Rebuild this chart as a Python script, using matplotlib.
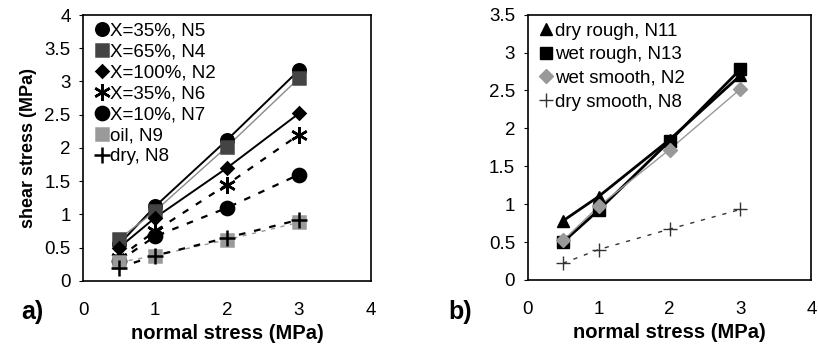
import matplotlib.pyplot as plt
from matplotlib.lines import Line2D

plt.rcParams['font.family'] = ['Liberation Sans', 'DejaVu Sans']

normal = [0.5, 1, 2, 3]

# panel a
a_labels = ['X=35%, N5', 'X=65%, N4', 'X=100%, N2', 'X=35%, N6', 'X=10%, N7', 'oil, N9', 'dry, N8']
a_n5 = [0.55, 1.12, 2.12, 3.17]
a_n4 = [0.63, 1.05, 2.02, 3.05]
a_n2 = [0.50, 0.95, 1.70, 2.52]
a_n6 = [0.35, 0.75, 1.45, 2.20]
a_n7 = [0.30, 0.67, 1.10, 1.60]
a_n9 = [0.28, 0.38, 0.62, 0.88]
a_n8 = [0.20, 0.38, 0.65, 0.92]

# panel b
b_labels = ['dry rough, N11', 'wet rough, N13', 'wet smooth, N2', 'dry smooth, N8']
b_n11 = [0.78, 1.10, 1.85, 2.70]
b_n13 = [0.50, 0.92, 1.83, 2.78]
b_n2 = [0.52, 0.97, 1.72, 2.52]
b_n8 = [0.22, 0.40, 0.67, 0.93]

fig = plt.figure(figsize=(8.18, 3.49), dpi=100)
ax1 = fig.add_axes([0.1015, 0.195, 0.352, 0.762])
ax2 = fig.add_axes([0.645, 0.198, 0.347, 0.760])

gray = '#8a8a8a'
a_styles = [
    (a_n5, 'o', 'k', '-', 'k', 1.4, 9),
    (a_n4, 's', '#444444', '-', gray, 1.0, 8.5),
    (a_n2, 'D', 'k', '-', 'k', 1.4, 6.5),
    (a_n6, (6, 2, 0), 'k', (0, (3, 4)), 'k', 1.6, 12),
    (a_n7, 'o', 'k', (0, (3, 4)), 'k', 1.6, 9.5),
    (a_n9, 's', '#9a9a9a', (0, (3, 4)), '#9a9a9a', 1.0, 8.5),
    (a_n8, '+', 'k', (0, (3, 4)), 'k', 1.6, 12),
]
handles = []
for (ys, m, mc, ls, lc, lw, ms), lab in zip(a_styles, a_labels):
    ax1.plot(normal, ys, linestyle=ls, color=lc, lw=lw, zorder=6)
    ax1.plot(normal, ys, linestyle='none', marker=m, color=mc, ms=ms, mew=1.8, zorder=7)
    handles.append(Line2D([], [], linestyle='none', marker=m, color=mc, ms=ms, mew=1.8, label=lab))
leg1 = ax1.legend(handles=handles, loc='upper left', bbox_to_anchor=(0.0, 1.02), frameon=True,
                  fontsize=13.5, handlelength=0.6, handletextpad=0.15, labelspacing=0.2, borderpad=0.2,
                  fancybox=False)
leg1.get_frame().set_facecolor('white')
leg1.get_frame().set_edgecolor('none')
leg1.get_frame().set_alpha(1)

b_styles = [
    (b_n11, '^', 'k', '-', 'k', 2.0, 9),
    (b_n13, 's', 'k', '-', 'k', 2.0, 9),
    (b_n2, 'D', '#999999', '-', '#999999', 1.0, 7),
    (b_n8, '+', '#333333', (0, (3, 5)), '#333333', 1.0, 10),
]
handles = []
for (ys, m, mc, ls, lc, lw, ms), lab in zip(b_styles, b_labels):
    ax2.plot(normal, ys, linestyle=ls, color=lc, lw=lw, zorder=6)
    ax2.plot(normal, ys, linestyle='none', marker=m, color=mc, ms=ms, mew=1.0, zorder=7)
    handles.append(Line2D([], [], linestyle='none', marker=m, color=mc, ms=ms, mew=1.0, label=lab))
leg2 = ax2.legend(handles=handles, loc='upper left', bbox_to_anchor=(0.0, 1.02), frameon=True,
                  fontsize=13.5, handlelength=0.6, handletextpad=0.15, labelspacing=0.35, borderpad=0.2,
                  fancybox=False)
leg2.get_frame().set_facecolor('white')
leg2.get_frame().set_edgecolor('none')
leg2.get_frame().set_alpha(1)

for ax, ymax in [(ax1, 4), (ax2, 3.5)]:
    ax.set_xlim(0, 4)
    ax.set_ylim(0, ymax)
    ax.set_xticks([0, 1, 2, 3, 4])
    ax.set_xticklabels(['0', '1', '2', '3', '4'])
    ax.tick_params(axis='x', length=0, pad=15, labelsize=13.5)
    ax.tick_params(axis='y', length=3, pad=6, labelsize=13.5)
    for s in ax.spines.values():
        s.set_linewidth(1.2)
    ax.set_xlabel('normal stress (MPa)', fontsize=14.5, fontweight='bold', labelpad=4)

ax1.set_yticks([0, 0.5, 1, 1.5, 2, 2.5, 3, 3.5, 4])
ax1.set_yticklabels(['0', '0.5', '1', '1.5', '2', '2.5', '3', '3.5', '4'])
ax2.set_yticks([0, 0.5, 1, 1.5, 2, 2.5, 3, 3.5])
ax2.set_yticklabels(['0', '0.5', '1', '1.5', '2', '2.5', '3', '3.5'])
ax1.set_ylabel('shear stress (MPa)', fontsize=13, fontweight='bold', labelpad=5)

fig.text(0.026, 0.085, 'a)', fontsize=18, fontweight='bold')
fig.text(0.548, 0.085, 'b)', fontsize=18, fontweight='bold')

plt.savefig('out.png', dpi=100)
